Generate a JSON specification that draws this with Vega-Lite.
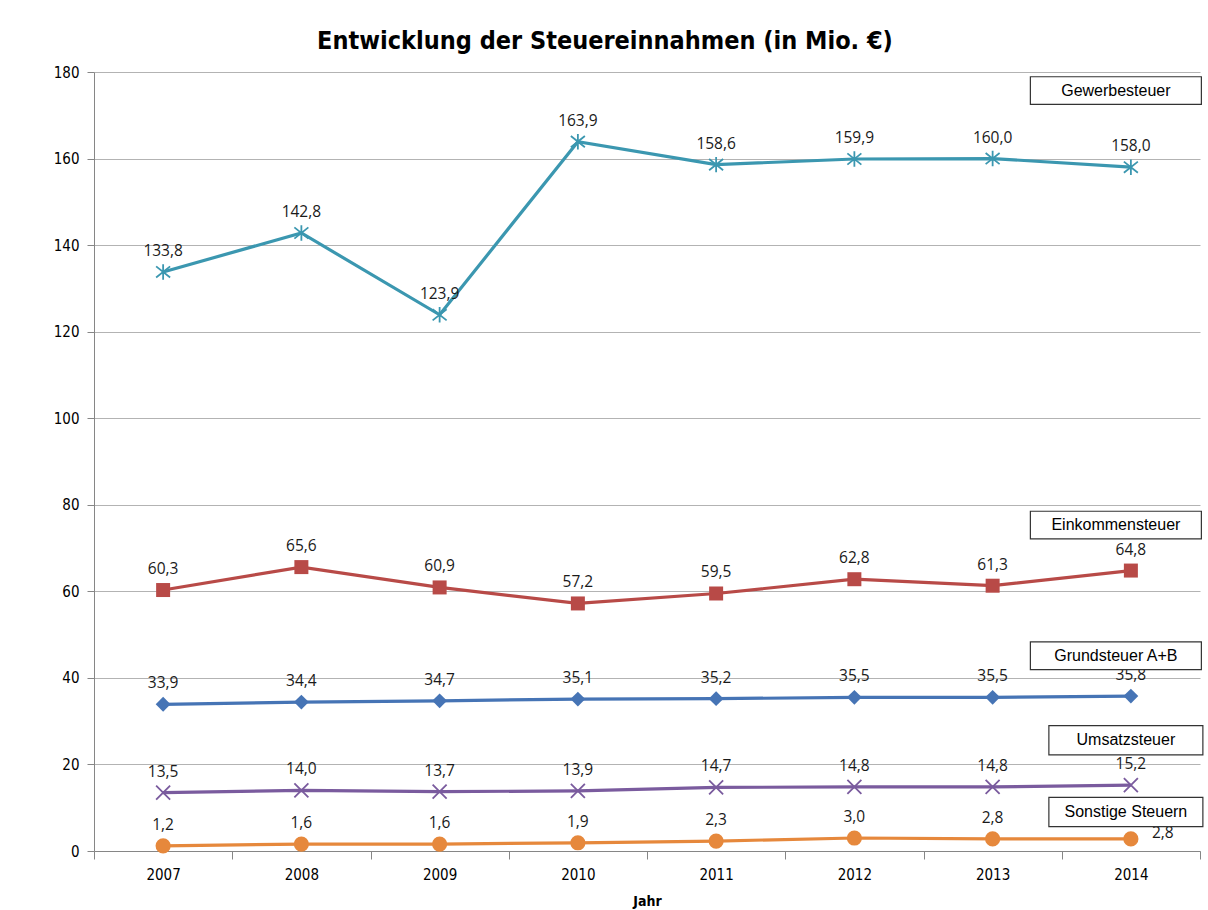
{
  "$schema": "https://vega.github.io/schema/vega-lite/v6.json",
  "width": 1106,
  "height": 779,
  "autosize": {"type": "none"},
  "padding": {"left": 94, "top": 72, "right": 8, "bottom": 59},
  "background": "white",
  "config": {
    "view": {"stroke": null},
    "locale": {"number": {"decimal": ",", "thousands": ".", "grouping": [3], "currency": ["", " €"]}}
  },
  "title": {
    "text": "Entwicklung der Steuereinnahmen (in Mio. €)",
    "font": "DejaVu Sans Condensed, Liberation Sans, sans-serif",
    "fontSize": 25,
    "fontWeight": "bold",
    "color": "#000000",
    "anchor": "middle",
    "dx": -42,
    "offset": 11
  },
  "datasets": {
    "steuern": [
      {"series": "Gewerbesteuer", "year": "2007", "value": 133.8},
      {"series": "Gewerbesteuer", "year": "2008", "value": 142.8},
      {"series": "Gewerbesteuer", "year": "2009", "value": 123.9},
      {"series": "Gewerbesteuer", "year": "2010", "value": 163.9},
      {"series": "Gewerbesteuer", "year": "2011", "value": 158.6},
      {"series": "Gewerbesteuer", "year": "2012", "value": 159.9},
      {"series": "Gewerbesteuer", "year": "2013", "value": 160.0},
      {"series": "Gewerbesteuer", "year": "2014", "value": 158.0},
      {"series": "Einkommensteuer", "year": "2007", "value": 60.3},
      {"series": "Einkommensteuer", "year": "2008", "value": 65.6},
      {"series": "Einkommensteuer", "year": "2009", "value": 60.9},
      {"series": "Einkommensteuer", "year": "2010", "value": 57.2},
      {"series": "Einkommensteuer", "year": "2011", "value": 59.5},
      {"series": "Einkommensteuer", "year": "2012", "value": 62.8},
      {"series": "Einkommensteuer", "year": "2013", "value": 61.3},
      {"series": "Einkommensteuer", "year": "2014", "value": 64.8},
      {"series": "Grundsteuer A+B", "year": "2007", "value": 33.9},
      {"series": "Grundsteuer A+B", "year": "2008", "value": 34.4},
      {"series": "Grundsteuer A+B", "year": "2009", "value": 34.7},
      {"series": "Grundsteuer A+B", "year": "2010", "value": 35.1},
      {"series": "Grundsteuer A+B", "year": "2011", "value": 35.2},
      {"series": "Grundsteuer A+B", "year": "2012", "value": 35.5},
      {"series": "Grundsteuer A+B", "year": "2013", "value": 35.5},
      {"series": "Grundsteuer A+B", "year": "2014", "value": 35.8},
      {"series": "Umsatzsteuer", "year": "2007", "value": 13.5},
      {"series": "Umsatzsteuer", "year": "2008", "value": 14.0},
      {"series": "Umsatzsteuer", "year": "2009", "value": 13.7},
      {"series": "Umsatzsteuer", "year": "2010", "value": 13.9},
      {"series": "Umsatzsteuer", "year": "2011", "value": 14.7},
      {"series": "Umsatzsteuer", "year": "2012", "value": 14.8},
      {"series": "Umsatzsteuer", "year": "2013", "value": 14.8},
      {"series": "Umsatzsteuer", "year": "2014", "value": 15.2},
      {"series": "Sonstige Steuern", "year": "2007", "value": 1.2},
      {"series": "Sonstige Steuern", "year": "2008", "value": 1.6},
      {"series": "Sonstige Steuern", "year": "2009", "value": 1.6},
      {"series": "Sonstige Steuern", "year": "2010", "value": 1.9},
      {"series": "Sonstige Steuern", "year": "2011", "value": 2.3},
      {"series": "Sonstige Steuern", "year": "2012", "value": 3.0},
      {"series": "Sonstige Steuern", "year": "2013", "value": 2.8},
      {"series": "Sonstige Steuern", "year": "2014", "value": 2.8}
    ],
    "boxes": [
      {"series": "Gewerbesteuer", "year": "2014", "value": 175.7},
      {"series": "Einkommensteuer", "year": "2014", "value": 75.3},
      {"series": "Grundsteuer A+B", "year": "2014", "value": 45.1},
      {"series": "Umsatzsteuer", "year": "2014", "value": 25.6},
      {"series": "Sonstige Steuern", "year": "2014", "value": 9.0}
    ]
  },
  "encoding": {
    "x": {
      "field": "year",
      "type": "ordinal",
      "scale": {"type": "band", "domain": ["2007", "2008", "2009", "2010", "2011", "2012", "2013", "2014"], "paddingInner": 0, "paddingOuter": 0},
      "axis": {
        "title": "Jahr",
        "titleFont": "DejaVu Sans Condensed, Liberation Sans, sans-serif",
        "titleFontSize": 14,
        "titleFontWeight": "bold",
        "titleColor": "#000000",
        "titlePadding": 12,
        "labelAngle": 0,
        "labelFont": "DejaVu Sans Condensed, Liberation Sans, sans-serif",
        "labelFontSize": 15,
        "labelColor": "#000000",
        "labelPadding": 8,
        "tickBand": "extent",
        "tickSize": 8,
        "tickColor": "#868686",
        "domainColor": "#868686",
        "grid": false
      }
    },
    "y": {
      "field": "value",
      "type": "quantitative",
      "scale": {"domain": [0, 180], "nice": false},
      "axis": {
        "title": null,
        "values": [0, 20, 40, 60, 80, 100, 120, 140, 160, 180],
        "labelFont": "DejaVu Sans Condensed, Liberation Sans, sans-serif",
        "labelFontSize": 15,
        "labelColor": "#000000",
        "labelPadding": 8,
        "tickSize": 7,
        "tickColor": "#868686",
        "domainColor": "#868686",
        "grid": true,
        "gridColor": "#b3b3b3",
        "gridWidth": 1
      }
    },
    "color": {
      "field": "series",
      "type": "nominal",
      "legend": null,
      "scale": {
        "domain": ["Gewerbesteuer", "Einkommensteuer", "Grundsteuer A+B", "Umsatzsteuer", "Sonstige Steuern"],
        "range": ["#3b97b0", "#b84a47", "#4674b5", "#7a5b9e", "#e6883c"]
      }
    }
  },
  "layer": [
    {
      "data": {"name": "steuern"},
      "mark": {"type": "line", "strokeWidth": 3.2}
    },
    {
      "data": {"name": "steuern"},
      "transform": [{"filter": "datum.series === 'Einkommensteuer'"}],
      "mark": {"type": "point", "shape": "square", "filled": true, "opacity": 1, "size": 196}
    },
    {
      "data": {"name": "steuern"},
      "transform": [{"filter": "datum.series === 'Grundsteuer A+B'"}],
      "mark": {"type": "point", "shape": "diamond", "filled": true, "opacity": 1, "size": 220}
    },
    {
      "data": {"name": "steuern"},
      "transform": [{"filter": "datum.series === 'Sonstige Steuern'"}],
      "mark": {"type": "point", "shape": "circle", "filled": true, "opacity": 1, "size": 230}
    },
    {
      "data": {"name": "steuern"},
      "transform": [{"filter": "datum.series === 'Gewerbesteuer'"}],
      "mark": {"type": "point", "shape": "M-1,-0.8L1,0.8M-1,0.8L1,-0.8M0,-1.1L0,1.1", "filled": false, "opacity": 1, "size": 196, "strokeWidth": 1.8}
    },
    {
      "data": {"name": "steuern"},
      "transform": [{"filter": "datum.series === 'Umsatzsteuer'"}],
      "mark": {"type": "point", "shape": "M-1,-1L1,1M-1,1L1,-1", "filled": false, "opacity": 1, "size": 196, "strokeWidth": 1.8}
    },
    {
      "data": {"name": "steuern"},
      "transform": [{"filter": "!(datum.series === 'Sonstige Steuern' && datum.year === '2014')"}],
      "mark": {"type": "text", "font": "Open Sans", "fontSize": 15.5, "baseline": "middle", "align": "center", "dy": -21},
      "encoding": {
        "text": {"field": "value", "type": "quantitative", "format": ".1f"},
        "color": {"value": "#1a1a1a"}
      }
    },
    {
      "data": {"name": "steuern"},
      "transform": [{"filter": "datum.series === 'Sonstige Steuern' && datum.year === '2014'"}],
      "mark": {"type": "text", "font": "Open Sans", "fontSize": 15.5, "baseline": "middle", "align": "left", "dx": 21, "dy": -6},
      "encoding": {
        "text": {"field": "value", "type": "quantitative", "format": ".1f"},
        "color": {"value": "#1a1a1a"}
      }
    },
    {
      "data": {"name": "boxes"},
      "transform": [{"filter": "datum.series === 'Gewerbesteuer' || datum.series === 'Einkommensteuer' || datum.series === 'Grundsteuer A+B'"}],
      "mark": {"type": "point", "shape": "M-1,-0.162L1,-0.162L1,0.162L-1,0.162Z", "size": 29241, "filled": true, "fill": "white", "stroke": "#333333", "strokeWidth": 1.2, "opacity": 1, "xOffset": -15},
      "encoding": {"color": {"value": "white"}}
    },
    {
      "data": {"name": "boxes"},
      "transform": [{"filter": "datum.series === 'Umsatzsteuer' || datum.series === 'Sonstige Steuern'"}],
      "mark": {"type": "point", "shape": "M-1,-0.19L1,-0.19L1,0.19L-1,0.19Z", "size": 23716, "filled": true, "fill": "white", "stroke": "#333333", "strokeWidth": 1.2, "opacity": 1, "xOffset": -5},
      "encoding": {"color": {"value": "white"}}
    },
    {
      "data": {"name": "boxes"},
      "transform": [{"filter": "datum.series === 'Gewerbesteuer' || datum.series === 'Einkommensteuer' || datum.series === 'Grundsteuer A+B'"}],
      "mark": {"type": "text", "font": "Liberation Sans", "fontSize": 16, "align": "center", "baseline": "middle", "xOffset": -15},
      "encoding": {"text": {"field": "series"}, "color": {"value": "#000000"}}
    },
    {
      "data": {"name": "boxes"},
      "transform": [{"filter": "datum.series === 'Umsatzsteuer' || datum.series === 'Sonstige Steuern'"}],
      "mark": {"type": "text", "font": "Liberation Sans", "fontSize": 16, "align": "center", "baseline": "middle", "xOffset": -5},
      "encoding": {"text": {"field": "series"}, "color": {"value": "#000000"}}
    }
  ]
}
